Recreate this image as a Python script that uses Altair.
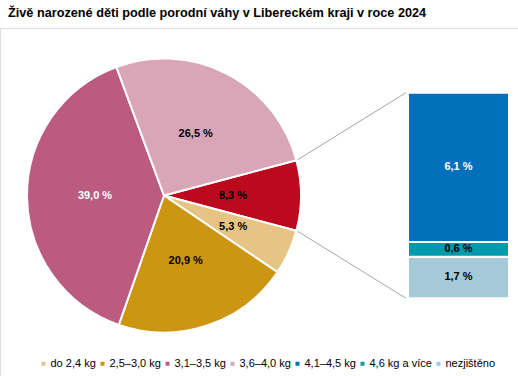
import math
import pandas as pd
import altair as alt

# ---- data ----
legend_cats = ["do 2,4 kg", "2,5–3,0 kg", "3,1–3,5 kg", "3,6–4,0 kg",
               "4,1–4,5 kg", "4,6 kg a více", "nezjištěno"]
other_cat = "4,1 kg a více a nezjištěno"
pie_cats = [other_cat, "do 2,4 kg", "2,5–3,0 kg", "3,1–3,5 kg", "3,6–4,0 kg"]
pie_vals = [8.3, 5.3, 20.9, 39.0, 26.5]
bar_cats = ["nezjištěno", "4,6 kg a více", "4,1–4,5 kg"]
bar_vals = [1.7, 0.6, 6.1]
white_label_cats = ["3,1–3,5 kg", "4,1–4,5 kg"]

colors = ["#e6c483", "#cc9512", "#bb5b80", "#d8a6b6",
          "#0070bb", "#009aad", "#a4cad8", "#bb0a1e"]

# ---- layout constants (pixels) ----
W, H_TOP, VIEW_H = 518, 28, 348
CX, R = 164, 137
BAR_X0, BAR_X1 = 408, 509
BAR_TOP, BAR_BOT = 64.7, 270.3
FONT = "Liberation Sans"


def fmt(v):
    return f"{v:.1f}".replace(".", ",") + " %"


bar_total = sum(bar_vals)
ppu = (BAR_BOT - BAR_TOP) / bar_total
y_dom = [-(VIEW_H - BAR_BOT) / ppu, BAR_BOT / ppu]
yscale = alt.Scale(domain=y_dom, range=[VIEW_H, 0], zero=False, nice=False)
xscale = alt.Scale(domain=[0, W], range=[0, W], zero=False, nice=False)
cy = bar_total / 2

pie_total = sum(pie_vals)
start = math.pi / 2 - math.pi * pie_vals[0] / pie_total
end = start + 2 * math.pi * pie_vals[0] / pie_total
theta_scale = alt.Scale(domain=[0, pie_total], range=[start, start + 2 * math.pi],
                        zero=False, nice=False)

cum, acc = [], 0.0
for v in pie_vals:
    cum.append(acc)
    acc += v
pie_df = pd.DataFrame({
    "cat": pie_cats,
    "v": pie_vals,
    "t0": cum,
    "t1": [a + b for a, b in zip(cum, pie_vals)],
    "label": [fmt(v) for v in pie_vals],
    "w": [1 if c in white_label_cats else 0 for c in pie_cats],
})
pie_df["tm"] = (pie_df["t0"] + pie_df["t1"]) / 2

y0, acc = [], 0.0
for v in bar_vals:
    y0.append(acc)
    acc += v
bar_df = pd.DataFrame({
    "cat": bar_cats,
    "v": bar_vals,
    "y0": y0,
    "y1": [a + b for a, b in zip(y0, bar_vals)],
    "label": [fmt(v) for v in bar_vals],
    "w": [1 if c in white_label_cats else 0 for c in bar_cats],
})
bar_df["ym"] = (bar_df["y0"] + bar_df["y1"]) / 2

re = R + 1
conn_df = pd.DataFrame({
    "x": [CX + re * math.sin(start), CX + re * math.sin(end)],
    "y": [cy + re * math.cos(start) / ppu, cy + re * math.cos(end) / ppu],
    "x2": [BAR_X0 - 2, BAR_X0 - 2],
    "y2": [bar_total, 0.0],
})

color_scale = alt.Scale(domain=legend_cats + [other_cat], range=colors)
legend = alt.Legend(values=legend_cats, orient="none", legendX=38, legendY=330,
                    direction="horizontal", columns=7, title=None,
                    symbolType="square", symbolSize=16, symbolStrokeWidth=0,
                    labelFontSize=11, labelFont=FONT, labelColor="#000000",
                    columnPadding=1, labelOffset=1.5, padding=0, gridAlign="each")

arcs = alt.Chart(pie_df).mark_arc(radius=R, stroke="white", strokeWidth=2).encode(
    theta=alt.Theta("t0:Q", scale=theta_scale),
    theta2="t1:Q",
    color=alt.Color("cat:N", scale=color_scale, legend=legend),
    x=alt.value(CX),
    y=alt.Y(datum=cy, type="quantitative", scale=yscale, axis=None),
)

arc_text = alt.Chart(pie_df).transform_calculate(
    lr="datum.v < 6 ? 76 : 69"
).mark_text(font=FONT, fontSize=11, fontWeight="bold").encode(
    theta=alt.Theta("tm:Q", scale=theta_scale),
    radius=alt.Radius("lr:Q", scale=None),
    text="label:N",
    color=alt.condition("datum.w == 1", alt.value("white"), alt.value("black")),
    x=alt.value(CX),
    y=alt.Y(datum=cy, type="quantitative", scale=yscale, axis=None),
)

conn = alt.Chart(conn_df).mark_rule(color="#a6a6a6", strokeWidth=1).encode(
    x=alt.X("x:Q", scale=xscale, axis=None),
    y=alt.Y("y:Q", scale=yscale, axis=None),
    x2="x2:Q",
    y2="y2:Q",
)

bars = alt.Chart(bar_df).mark_rect(stroke="white", strokeWidth=2).encode(
    x=alt.value(BAR_X0),
    x2=alt.value(BAR_X1),
    y=alt.Y("y0:Q", scale=yscale, axis=None),
    y2="y1:Q",
    color=alt.Color("cat:N", scale=color_scale, legend=legend),
)

bar_text = alt.Chart(bar_df).mark_text(font=FONT, fontSize=11, fontWeight="bold").encode(
    x=alt.value((BAR_X0 + BAR_X1) / 2),
    y=alt.Y("ym:Q", scale=yscale, axis=None),
    text="label:N",
    color=alt.condition("datum.w == 1", alt.value("white"), alt.value("black")),
)

chart = alt.layer(conn, arcs, arc_text, bars, bar_text).properties(
    width=W,
    height=VIEW_H,
    autosize=alt.AutoSizeParams(type="none"),
    padding={"left": 0, "top": H_TOP, "right": 0, "bottom": 0},
    title=alt.Title(
        "Živě narozené děti podle porodní váhy v Libereckém kraji v roce 2024",
        anchor="start", font=FONT, fontSize=12.7, fontWeight="bold",
        color="#000000", offset=8, dx=8,
    ),
).configure_view(stroke=None).configure(background="white")

chart.save("out.html", embed_options={"renderer": "svg", "actions": False})
